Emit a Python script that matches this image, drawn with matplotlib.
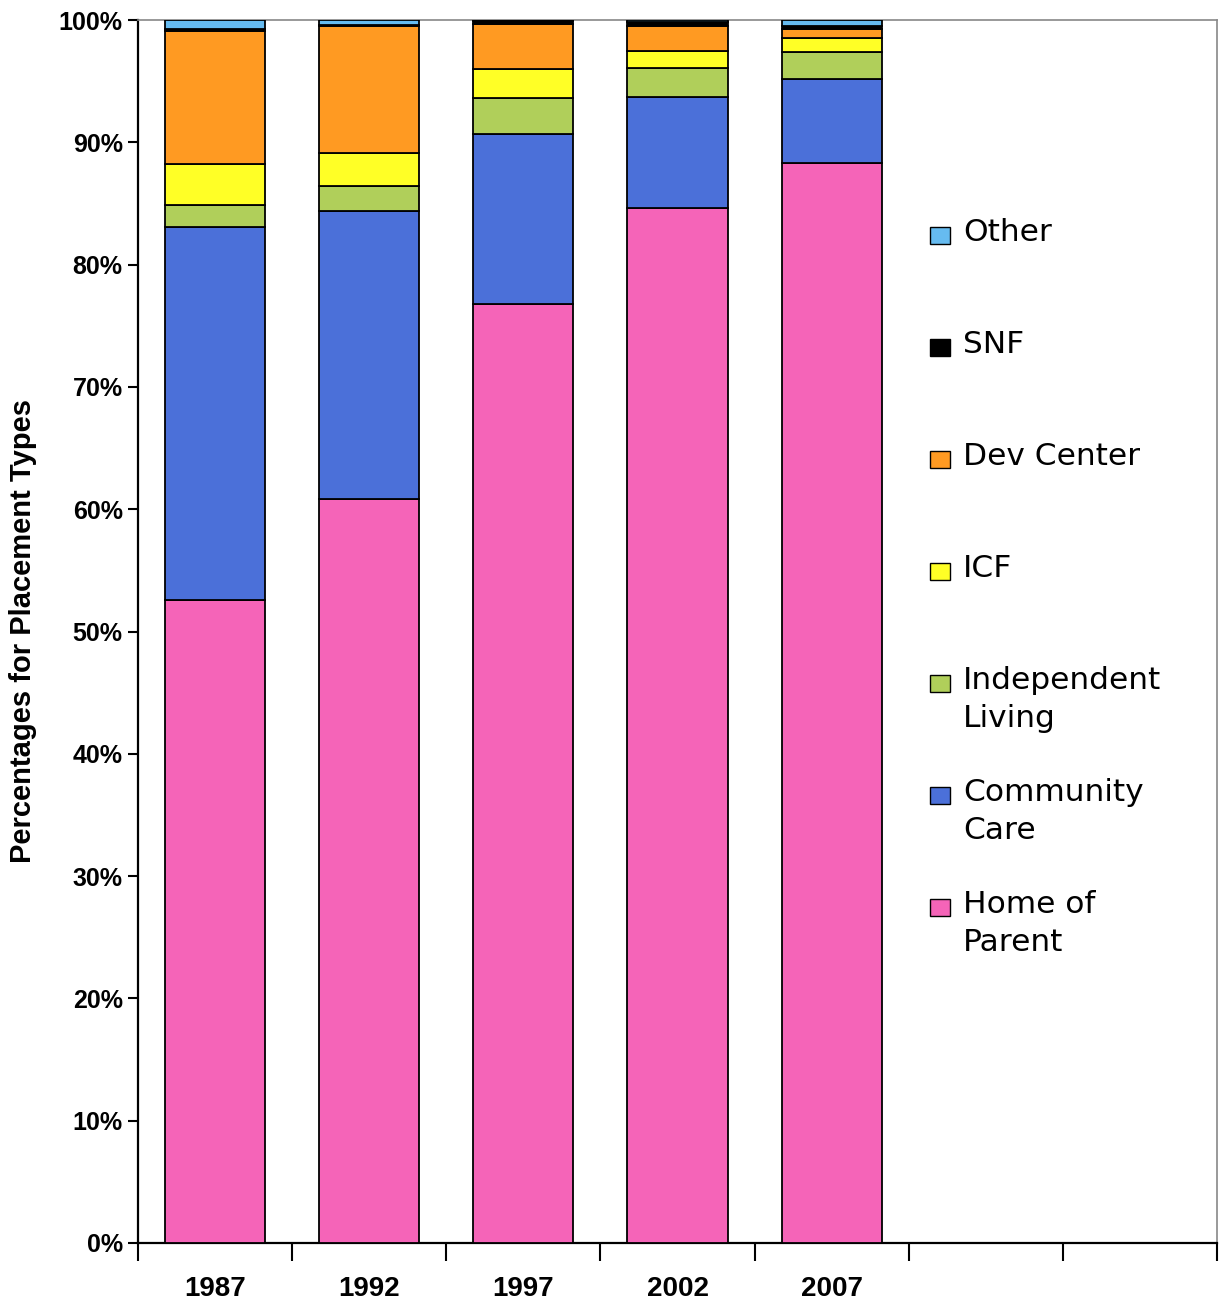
import matplotlib
matplotlib.use("Agg")
import matplotlib.pyplot as plt
from matplotlib.patches import Rectangle
import numpy as np

years = ["1987", "1992", "1997", "2002", "2007"]
series_names = ["Home of\nParent", "Community\nCare", "Independent\nLiving", "ICF",
                "Dev Center", "SNF", "Other"]
home_of_parent = [52.6, 60.8, 76.8, 84.6, 88.3]
community_care = [30.5, 23.6, 13.9, 9.1, 6.9]
independent_living = [1.8, 2.0, 2.9, 2.4, 2.2]
icf = [3.3, 2.7, 2.4, 1.4, 1.1]
dev_center = [10.9, 10.4, 3.7, 2.0, 0.8]
snf = [0.2, 0.1, 0.2, 0.3, 0.2]
other = [0.7, 0.4, 0.1, 0.2, 0.5]
colors = ["#F564B8", "#4B70D9", "#B0CF5A", "#FFFF26", "#FF9A22", "#000000", "#66BBF0"]

values = [home_of_parent, community_care, independent_living, icf, dev_center, snf, other]

plt.rcParams['font.family'] = ['Liberation Sans', 'DejaVu Sans']

W, H = 1219, 1308
fig = plt.figure(figsize=(W / 100, H / 100), dpi=100)
ax = fig.add_axes([138 / W, 1 - 1243 / H, (1217 - 138) / W, (1243 - 20) / H])

x = np.arange(len(years))
bottom = np.zeros(len(years))
for vals, col in zip(values, colors):
    vals = np.array(vals)
    ax.bar(x, vals, width=0.65, bottom=bottom, color=col, edgecolor="black",
           linewidth=1.3, zorder=3)
    bottom += vals

ax.set_xlim(-0.5, 6.5)
ax.set_ylim(0, 100)

# y axis
ax.set_yticks(np.arange(0, 101, 10))
ax.set_yticklabels([f"{v}%" for v in range(0, 101, 10)], fontsize=18, fontweight="bold")
ax.tick_params(axis="y", direction="out", length=7, width=1.5, pad=4)

# x axis: ticks at category boundaries, labels at centers
ax.set_xticks(np.arange(-0.5, 7.0, 1.0))
ax.set_xticklabels([])
ax.tick_params(axis="x", which="major", direction="out", length=13, width=1.5)
ax.set_xticks(x, minor=True)
ax.set_xticklabels(years, minor=True, fontsize=20, fontweight="bold")
ax.tick_params(axis="x", which="minor", length=0, pad=24)

for s in ["left", "bottom"]:
    ax.spines[s].set_linewidth(1.6)
    ax.spines[s].set_color("black")
for s in ["top", "right"]:
    ax.spines[s].set_linewidth(1.2)
    ax.spines[s].set_color("#888888")

ax.set_ylabel("Percentages for Placement Types", fontsize=21, fontweight="bold")
ax.yaxis.set_label_coords(-0.094, 0.5)

# legend (manual, handle aligned to first line of label)
leg_order = list(range(len(series_names)))[::-1]
y0 = 235
step = 112
for i, idx in enumerate(leg_order):
    yc = y0 + i * step
    rect = Rectangle((930 / W, 1 - (yc + 9) / H), 20 / W, 17 / H, transform=fig.transFigure,
                     facecolor=colors[idx], edgecolor="black", linewidth=1.0)
    fig.patches.append(rect)
    fig.text(963 / W, 1 - (yc - 17) / H, series_names[idx], fontsize=22.5,
             family=['DejaVu Sans'], va="top", ha="left", linespacing=1.38)

fig.savefig("out.png", dpi=100)
